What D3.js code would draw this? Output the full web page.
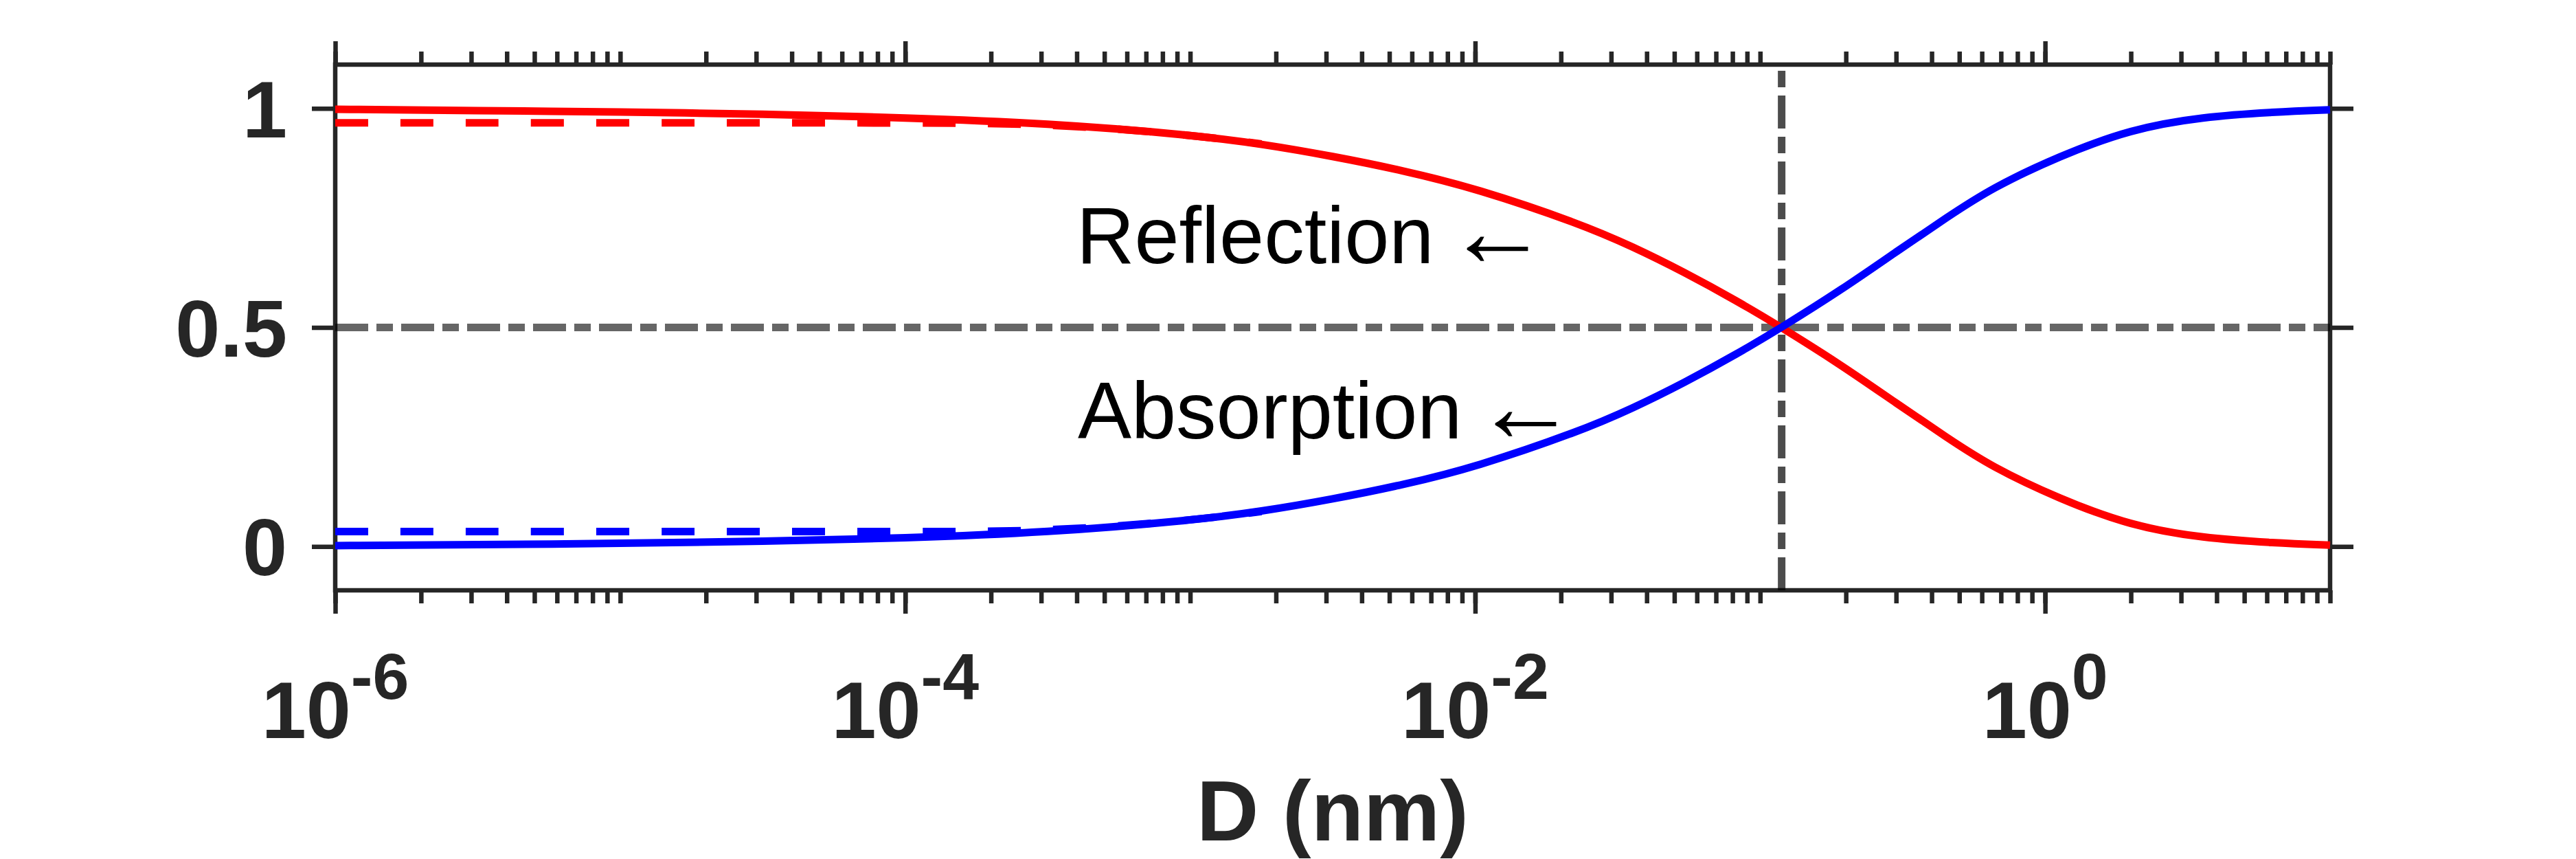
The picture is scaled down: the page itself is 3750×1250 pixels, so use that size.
<!DOCTYPE html>
<html>

<head>
  <meta charset="utf-8">
  <title>Reflection and absorption vs D</title>
  <style>
  body {
    margin: 0px;
    background: #fff;
  }
  .tick line {
    stroke: #262626;
    stroke-width: 6.5px;
  }
  .curve {
    fill: none;
    stroke-width: 11px;
    stroke-linecap: butt;
  }
  .tick-label {
    font-family: "Liberation Sans", Arial, sans-serif;
    font-weight: bold;
    fill: #262626;
  }
  .note {
    font-family: "Liberation Sans", Arial, sans-serif;
    fill: #000;
  }
  </style>
</head>

<body>
  <svg width="3750" height="1250"></svg>
  <script src="https://d3js.org/d3.v7.min.js"></script>
  <script>
  // values
  var dValues = [1e-6, 3.16e-6, 1e-5, 3.16e-5, 1e-4, 3.16e-4, 1e-3, 1.78e-3, 3.16e-3, 5.62e-3,
                 1e-2, 2.33e-2, 3.56e-2, 5.43e-2, 8.32e-2, 0.119, 0.194, 0.296, 0.454, 0.649,
                 1.12, 2.0, 3.58, 6.38, 10];
  var reflection = [0.998, 0.995, 0.992, 0.987, 0.979, 0.966, 0.940, 0.919, 0.891, 0.858,
                    0.818, 0.737, 0.685, 0.626, 0.560, 0.5, 0.413, 0.330, 0.248, 0.182,
                    0.109, 0.047, 0.019, 0.008, 0.003];
  var absorption = [0.002, 0.004, 0.007, 0.012, 0.019, 0.032, 0.059, 0.080, 0.108, 0.141,
                    0.181, 0.263, 0.315, 0.374, 0.440, 0.5, 0.587, 0.670, 0.752, 0.818,
                    0.891, 0.953, 0.981, 0.992, 0.997];

  var dDashed = [1e-6, 1e-5, 1e-4, 3.16e-4, 1e-3, 1.78e-3];
  var reflectionDashed = [0.967, 0.967, 0.967, 0.966, 0.940, 0.919];
  var absorptionDashed = [0.034, 0.034, 0.034, 0.034, 0.059, 0.080];

  var xMajorTicks = [1e-6, 1e-4, 1e-2, 1];
  var xTickExponents = ["-6", "-4", "-2", "0"];
  var yTicks = [0, 0.5, 1];
  var yTickLabels = ["0", "0.5", "1"];

  var crossD = 0.119;
  var crossLevel = 0.5;

  var svg = d3.select("svg");

  var x = d3.scaleLog().domain([1e-6, 10]).range([488, 3392]);
  var y = d3.scaleLinear().domain([-0.1, 1.1]).range([859, 94]);

  var axisColor = "#262626";

  function noDomain(g) { g.select(".domain").remove(); }

  // minor ticks (every 1..9 x 10^k), bottom and top
  var minor = x.ticks();
  svg.append("g")
    .attr("transform", "translate(0," + y.range()[0] + ")")
    .call(d3.axisBottom(x).tickValues(minor).tickSize(19).tickFormat(""))
    .call(noDomain);
  svg.append("g")
    .attr("transform", "translate(0," + y.range()[1] + ")")
    .call(d3.axisTop(x).tickValues(minor).tickSize(19).tickFormat(""))
    .call(noDomain);

  // major ticks
  svg.append("g")
    .attr("transform", "translate(0," + y.range()[0] + ")")
    .call(d3.axisBottom(x).tickValues(xMajorTicks).tickSize(34).tickFormat(""))
    .call(noDomain);
  svg.append("g")
    .attr("transform", "translate(0," + y.range()[1] + ")")
    .call(d3.axisTop(x).tickValues(xMajorTicks).tickSize(34).tickFormat(""))
    .call(noDomain);
  svg.append("g")
    .attr("transform", "translate(" + x.range()[0] + ",0)")
    .call(d3.axisLeft(y).tickValues(yTicks).tickSize(34).tickFormat(""))
    .call(noDomain);
  svg.append("g")
    .attr("transform", "translate(" + x.range()[1] + ",0)")
    .call(d3.axisRight(y).tickValues(yTicks).tickSize(34).tickFormat(""))
    .call(noDomain);

  // box
  svg.append("rect")
    .attr("x", x.range()[0])
    .attr("y", y.range()[1])
    .attr("width", x.range()[1] - x.range()[0])
    .attr("height", y.range()[0] - y.range()[1])
    .attr("fill", "none")
    .attr("stroke", axisColor)
    .attr("stroke-width", 6.5);

  // x tick labels 10^n
  var xl = svg.selectAll(".xlab")
    .data(xMajorTicks)
    .enter()
    .append("text")
    .attr("class", "tick-label xlab")
    .attr("x", function(d) { return x(d); })
    .attr("y", 1074)
    .attr("text-anchor", "middle")
    .attr("font-size", 117);
  xl.append("tspan").text("10");
  xl.append("tspan")
    .attr("font-size", 95)
    .attr("dy", -57)
    .text(function(d, i) { return xTickExponents[i]; });

  // y tick labels
  svg.selectAll(".ylab")
    .data(yTicks)
    .enter()
    .append("text")
    .attr("class", "tick-label ylab")
    .attr("x", 418)
    .attr("y", function(d) { return y(d) + 42; })
    .attr("text-anchor", "end")
    .attr("font-size", 117)
    .text(function(d, i) { return yTickLabels[i]; });

  // x label
  svg.append("text")
    .attr("class", "tick-label")
    .attr("x", (x.range()[0] + x.range()[1]) / 2)
    .attr("y", 1223)
    .attr("text-anchor", "middle")
    .attr("font-size", 125)
    .text("D (nm)");

  var line = d3.line()
    .x(function(d) { return x(d[0]); })
    .y(function(d) { return y(d[1]); })
    .curve(d3.curveBasis);

  function pairs(xs, ys) { return xs.map(function(v, i) { return [v, ys[i]]; }); }

  // reference lines (dash-dot)
  svg.append("path")
    .attr("class", "curve")
    .attr("d", line([[1e-6, crossLevel], [10, crossLevel]]))
    .attr("stroke", "#000")
    .attr("stroke-opacity", 0.6)
    .attr("stroke-dasharray", "48,12,24,12");
  svg.append("path")
    .attr("class", "curve")
    .attr("d", line([[crossD, -0.1], [crossD, 1.1]]))
    .attr("stroke", "#000")
    .attr("stroke-opacity", 0.7)
    .attr("stroke-dasharray", "48,12,24,12");

  // curves
  svg.append("path")
    .attr("class", "curve")
    .attr("d", line(pairs(dDashed, reflectionDashed)))
    .attr("stroke", "#ff0000")
    .attr("stroke-dasharray", "48,47");
  svg.append("path")
    .attr("class", "curve")
    .attr("d", line(pairs(dDashed, absorptionDashed)))
    .attr("stroke", "#0000ff")
    .attr("stroke-dasharray", "48,47");
  svg.append("path")
    .attr("class", "curve")
    .attr("d", line(pairs(dValues, reflection)))
    .attr("stroke", "#ff0000");
  svg.append("path")
    .attr("class", "curve")
    .attr("d", line(pairs(dValues, absorption)))
    .attr("stroke", "#0000ff");

  // annotations
  var notes = [["Reflection", 1567, 383], ["Absorption", 1569, 638]];
  notes.forEach(function(n) {
    var t = svg.append("text")
      .attr("class", "note")
      .attr("x", n[1])
      .attr("y", n[2])
      .attr("font-size", 117)
      .text(n[0] + " ");
    t.append("tspan")
      .attr("font-size", 150)
      .attr("dx", -15)
      .attr("dy", 4)
      .text("\u2190");
  });
  </script>
</body>

</html>
